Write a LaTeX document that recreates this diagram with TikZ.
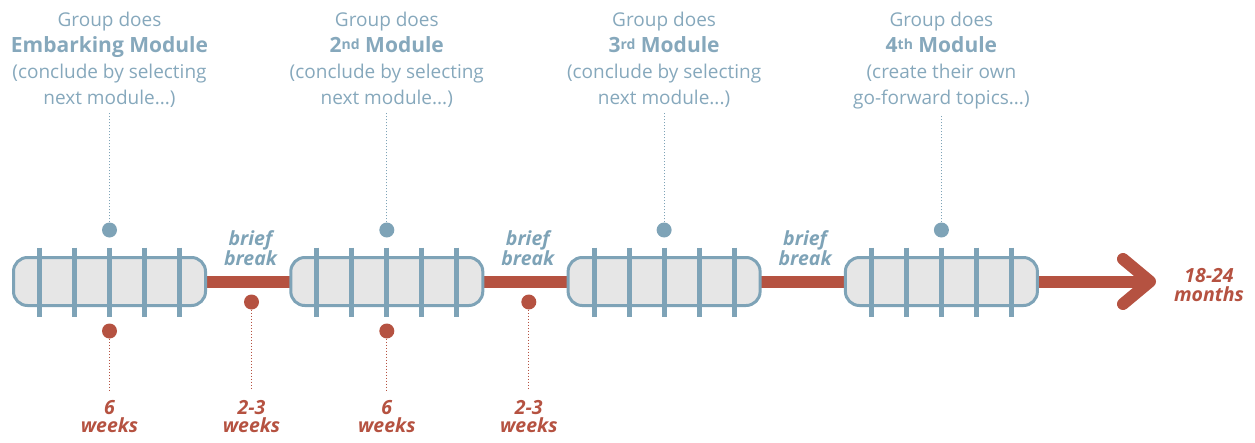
\documentclass[tikz,border=0pt]{standalone}
\usepackage{fontspec}
\setmainfont{Open Sans}
\usetikzlibrary{positioning}
\usetikzlibrary{calc}
\definecolor{mod-blue}{HTML}{7EA3B7}
\definecolor{txt-blue}{HTML}{86A8BC}
\definecolor{brk-red}{HTML}{B55241}
\definecolor{mod-fill}{HTML}{E6E6E6}
\tikzset{
  modbox/.style={
    rectangle,
    draw=mod-blue,
    fill=mod-fill,
    line width=3pt,
    rounded corners=14pt,
    minimum width=192pt,
    minimum height=48pt,
    inner sep=0pt},
  dot/.style={circle, fill=#1, minimum size=15pt, inner sep=0pt},
}
\newcommand{\ordsup}[1]{{\fontsize{14}{14}\selectfont\raisebox{3pt}{#1}}}

\begin{document}
\begin{tikzpicture}[
  x=1pt, y=-1pt,
  toptext/.style={align=center, text=txt-blue, inner sep=0pt, anchor=north,
    font=\fontsize{19}{26}\selectfont},
  redtext/.style={align=center, text=brk-red, inner sep=0pt,
    font=\fontsize{19.5}{18.5}\selectfont\bfseries\itshape},
  bluetext/.style={redtext, text=mod-blue},
  dotline/.style={line width=1pt, dash pattern=on 1pt off 2pt},
  tickbar/.style={draw=mod-blue, line width=5pt},
  timeline/.style={draw=brk-red, line width=12pt}]
  \useasboundingbox (0,0) rectangle (1255,442);
  \pgfmathsetmacro{\gap}{277.3}
  \pgfmathsetmacro{\liney}{281.5}

  % timeline with arrow head
  \coordinate (tl-start) at (110,\liney);
  \coordinate (tl-tip) at (1150,\liney);
  \coordinate (tl-arm1) at (1123,259);
  \coordinate (tl-arm2) at (1123,304);
  \draw[timeline] (tl-start) -- (tl-tip);
  \draw[timeline, line cap=round, line join=round] (tl-arm1) -- (tl-tip) -- (tl-arm2);
  \node[redtext] (tl-end) at (1209,285) {18-24\\months};

\foreach \title/\sub [count=\step from 1] in {{Embarking Module}/{(conclude by selecting\\next module...)},{2\ordsup{nd} Module}/{(conclude by selecting\\next module...)},{3\ordsup{rd} Module}/{(conclude by selecting\\next module...)},{4\ordsup{th} Module}/{(create their own\\go-forward topics...)}} {
    \pgfmathsetmacro{\cx}{109.5+(\step-1)*\gap}
    % module
    \node[modbox] (m-box\step) at (\cx,\liney) {};
    \foreach \k in {-2,...,2} {
      \draw[tickbar] ($(m-box\step.center)+(\k*35,-34)$) -- ($(m-box\step.center)+(\k*35,35)$);
    }
    % what the group does
    \node[toptext] (m-top\step) at (\cx,12) {Group does\\{\fontsize{21}{26}\selectfont\bfseries \title}\\\sub};
    \node[dot=mod-blue] (m-bdot\step) at (\cx,230) {};
    \draw[dotline, mod-blue] (m-bdot\step.north) -- ([yshift=-5pt]m-top\step.south);
    % break after the module
    \ifnum\step<4
      \node[bluetext] (b-txt\step) at (\cx+141,248) {brief\\break};
    \fi
    % durations
    \ifnum\step<3
      \node[dot=brk-red] (m-rdot\step) at (\cx,331) {};
      \node[redtext, anchor=north] (m-dur\step) at (\cx,400) {6\\weeks};
      \draw[dotline, brk-red] (m-rdot\step.south) -- ([yshift=10pt]m-dur\step.north);
      \node[dot=brk-red] (b-dot\step) at (\cx+142,302) {};
      \node[redtext, anchor=north] (b-dur\step) at (\cx+142,400) {2-3\\weeks};
      \draw[dotline, brk-red] (b-dot\step.south) -- ([yshift=10pt]b-dur\step.north);
    \fi
  }
\end{tikzpicture}
\end{document}
